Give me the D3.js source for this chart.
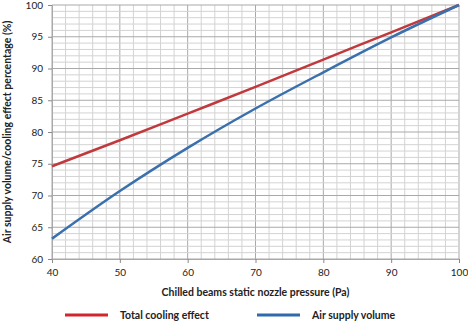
<!DOCTYPE html>
<html lang="en">
<head>
<meta charset="UTF-8">
<title>Chilled beams nozzle pressure</title>
<script src="https://d3js.org/d3.v7.min.js"></script>
<style>
    body { margin: 0; background: #fff; }
    svg text { font-family: Lato, "Open Sans", sans-serif; fill: #222; }
    .tick-label { font-size: 10px; }
    .title { font-size: 10.5px; font-weight: bold; }
</style>
</head>
<body>
<svg id="chart" width="468" height="323"></svg>
<script>
// pressure (Pa)
const pressure = [40, 50, 60, 70, 80, 90, 100];
// percentages
const totalCooling = [74.6, 78.7, 82.9, 87.1, 91.4, 95.7, 100];
const airSupply = [63.2, 70.7, 77.5, 83.7, 89.4, 94.9, 100];
const xTicks = [40, 50, 60, 70, 80, 90, 100];
const yTicks = [60, 65, 70, 75, 80, 85, 90, 95, 100];

const svg = d3.select("#chart");
const margin = { left: 52, right: 9, top: 5, bottom: 64 };
const W = 468, H = 323;

const x = d3.scaleLinear().domain([40, 100]).range([margin.left, W - margin.right]);
const y = d3.scaleLinear().domain([60, 100]).range([H - margin.bottom, margin.top]);

// grid - minor first, then major
const grid = svg.append("g");
grid.selectAll(".vminor")
    .data(d3.range(40, 101, 2))
    .enter().append("line")
    .attr("x1", d => x(d)).attr("x2", d => x(d))
    .attr("y1", y(60)).attr("y2", y(100))
    .attr("stroke", d => d % 10 === 0 ? "#a9a9a9" : "#d3d3d3")
    .attr("stroke-width", 1);
grid.selectAll(".hminor")
    .data(d3.range(60, 101, 1))
    .enter().append("line")
    .attr("x1", x(40)).attr("x2", x(100))
    .attr("y1", d => y(d)).attr("y2", d => y(d))
    .attr("stroke", d => d % 5 === 0 ? "#a9a9a9" : "#d3d3d3")
    .attr("stroke-width", 1);

// axes
const xAxis = svg.append("g")
    .attr("transform", `translate(0,${y(60)})`)
    .call(d3.axisBottom(x).tickValues(xTicks).tickSize(4).tickPadding(6));
const yAxis = svg.append("g")
    .attr("transform", `translate(${x(40)},0)`)
    .call(d3.axisLeft(y).tickValues(yTicks).tickSize(4).tickPadding(5));
[xAxis, yAxis].forEach(a => {
    a.select(".domain").attr("stroke", "#a9a9a9");
    a.selectAll(".tick line").attr("stroke", "#888");
    a.selectAll(".tick text").attr("class", "tick-label").attr("fill", "#222");
});

// lines
const line = d3.line()
    .x((d, i) => x(pressure[i]))
    .y(d => y(d))
    .curve(d3.curveMonotoneX);

svg.append("path").datum(totalCooling)
    .attr("d", line).attr("fill", "none")
    .attr("stroke", "#c0393d").attr("stroke-width", 2.5);
svg.append("path").datum(airSupply)
    .attr("d", line).attr("fill", "none")
    .attr("stroke", "#3a70ab").attr("stroke-width", 2.5);

// axis titles
svg.append("text").attr("class", "title")
    .attr("x", x(70)).attr("y", 296)
    .attr("text-anchor", "middle")
    .text("Chilled beams static nozzle pressure (Pa)");
svg.append("text").attr("class", "title")
    .attr("transform", `translate(11,${y(80)}) rotate(-90)`)
    .attr("text-anchor", "middle")
    .text("Air supply volume/cooling effect percentage (%)");

// legend
const legendItems = [
    { label: "Total cooling effect", color: "#d0262c", x0: 65 },
    { label: "Air supply volume", color: "#2f6aac", x0: 257 }
];
const lg = svg.selectAll(".legend").data(legendItems).enter().append("g");
lg.append("line")
    .attr("x1", d => d.x0).attr("x2", d => d.x0 + 43)
    .attr("y1", 315).attr("y2", 315)
    .attr("stroke", d => d.color).attr("stroke-width", 3);
lg.append("text").attr("class", "title")
    .attr("x", d => d.x0 + 55).attr("y", 319)
    .text(d => d.label);
</script>
</body>
</html>
